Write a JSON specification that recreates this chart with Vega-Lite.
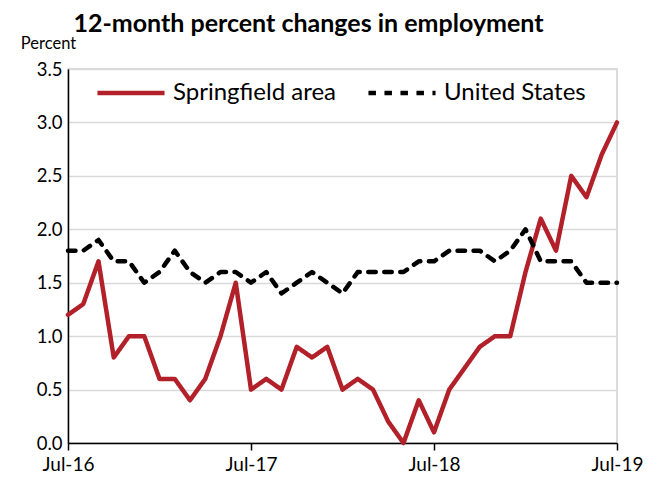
{
  "$schema": "https://vega.github.io/schema/vega-lite/v6.json",
  "autosize": "none",
  "width": 549,
  "height": 374,
  "padding": {"left": 68, "top": 69, "right": 31, "bottom": 34},
  "background": "white",
  "config": {
    "font": "Lato",
    "view": {"stroke": "#d0d0d0", "strokeWidth": 1.5}
  },
  "title": {
    "text": "12-month percent changes in employment",
    "fontSize": 25,
    "fontWeight": "bold",
    "color": "#000000",
    "anchor": "middle",
    "frame": "group",
    "dx": -34,
    "offset": -2
  },
  "data": {
    "values": [
      {"month": "Jul-16", "Springfield area": 1.2, "United States": 1.8},
      {"month": "Aug-16", "Springfield area": 1.3, "United States": 1.8},
      {"month": "Sep-16", "Springfield area": 1.7, "United States": 1.9},
      {"month": "Oct-16", "Springfield area": 0.8, "United States": 1.7},
      {"month": "Nov-16", "Springfield area": 1.0, "United States": 1.7},
      {"month": "Dec-16", "Springfield area": 1.0, "United States": 1.5},
      {"month": "Jan-17", "Springfield area": 0.6, "United States": 1.6},
      {"month": "Feb-17", "Springfield area": 0.6, "United States": 1.8},
      {"month": "Mar-17", "Springfield area": 0.4, "United States": 1.6},
      {"month": "Apr-17", "Springfield area": 0.6, "United States": 1.5},
      {"month": "May-17", "Springfield area": 1.0, "United States": 1.6},
      {"month": "Jun-17", "Springfield area": 1.5, "United States": 1.6},
      {"month": "Jul-17", "Springfield area": 0.5, "United States": 1.5},
      {"month": "Aug-17", "Springfield area": 0.6, "United States": 1.6},
      {"month": "Sep-17", "Springfield area": 0.5, "United States": 1.4},
      {"month": "Oct-17", "Springfield area": 0.9, "United States": 1.5},
      {"month": "Nov-17", "Springfield area": 0.8, "United States": 1.6},
      {"month": "Dec-17", "Springfield area": 0.9, "United States": 1.5},
      {"month": "Jan-18", "Springfield area": 0.5, "United States": 1.4},
      {"month": "Feb-18", "Springfield area": 0.6, "United States": 1.6},
      {"month": "Mar-18", "Springfield area": 0.5, "United States": 1.6},
      {"month": "Apr-18", "Springfield area": 0.2, "United States": 1.6},
      {"month": "May-18", "Springfield area": 0.0, "United States": 1.6},
      {"month": "Jun-18", "Springfield area": 0.4, "United States": 1.7},
      {"month": "Jul-18", "Springfield area": 0.1, "United States": 1.7},
      {"month": "Aug-18", "Springfield area": 0.5, "United States": 1.8},
      {"month": "Sep-18", "Springfield area": 0.7, "United States": 1.8},
      {"month": "Oct-18", "Springfield area": 0.9, "United States": 1.8},
      {"month": "Nov-18", "Springfield area": 1.0, "United States": 1.7},
      {"month": "Dec-18", "Springfield area": 1.0, "United States": 1.8},
      {"month": "Jan-19", "Springfield area": 1.6, "United States": 2.0},
      {"month": "Feb-19", "Springfield area": 2.1, "United States": 1.7},
      {"month": "Mar-19", "Springfield area": 1.8, "United States": 1.7},
      {"month": "Apr-19", "Springfield area": 2.5, "United States": 1.7},
      {"month": "May-19", "Springfield area": 2.3, "United States": 1.5},
      {"month": "Jun-19", "Springfield area": 2.7, "United States": 1.5},
      {"month": "Jul-19", "Springfield area": 3.0, "United States": 1.5}
    ]
  },
  "transform": [
    {"fold": ["Springfield area", "United States"], "as": ["series", "value"]}
  ],
  "mark": {"type": "line", "strokeWidth": 4.5, "strokeCap": "round", "strokeJoin": "round"},
  "encoding": {
    "x": {
      "field": "month",
      "type": "ordinal",
      "sort": null,
      "scale": {"type": "point", "padding": 0},
      "axis": {
        "title": null,
        "values": ["Jul-16", "Jul-17", "Jul-18", "Jul-19"],
        "labelAngle": 0,
        "labelFontSize": 19,
        "labelColor": "#000000",
        "labelPadding": 5,
        "domainColor": "#000000",
        "domainWidth": 1.5,
        "tickColor": "#000000",
        "tickWidth": 1.5,
        "tickSize": 7,
        "grid": false
      }
    },
    "y": {
      "field": "value",
      "type": "quantitative",
      "scale": {"domain": [0, 3.5], "nice": false},
      "axis": {
        "values": [0, 0.5, 1, 1.5, 2, 2.5, 3, 3.5],
        "format": ".1f",
        "labelFontSize": 18.5,
        "labelColor": "#000000",
        "labelPadding": 6,
        "ticks": false,
        "domainColor": "#000000",
        "domainWidth": 1.5,
        "gridColor": "#d9d9d9",
        "gridWidth": 1.5,
        "title": "Percent",
        "titleFontSize": 16.5,
        "titleFontWeight": "normal",
        "titleColor": "#000000",
        "titleAngle": 0,
        "titleAlign": "center",
        "titleBaseline": "middle",
        "titleX": -20,
        "titleY": -26
      }
    },
    "color": {
      "field": "series",
      "type": "nominal",
      "scale": {"domain": ["Springfield area", "United States"], "range": ["#b22029", "#000000"]},
      "legend": {
        "title": null,
        "orient": "none",
        "legendX": 27,
        "legendY": -12,
        "direction": "horizontal",
        "labelFontSize": 24,
        "labelColor": "#000000",
        "labelLimit": 300,
        "symbolType": "stroke",
        "symbolSize": 4500,
        "symbolStrokeWidth": 4.5,
        "columnPadding": 22,
        "labelOffset": 6
      }
    },
    "strokeDash": {
      "field": "series",
      "type": "nominal",
      "scale": {"domain": ["Springfield area", "United States"], "range": [[1, 0], [7.5, 8.5]]},
      "legend": null
    }
  }
}
